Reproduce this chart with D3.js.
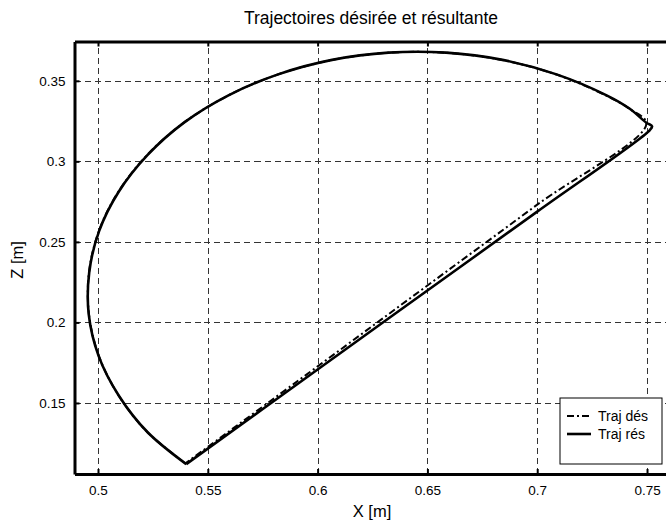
<!DOCTYPE html>
<html>
<head>
<meta charset="utf-8">
<script src="https://cdn.jsdelivr.net/npm/d3@7"></script>
<style>
  body { margin: 0; background: #fff; }
  svg { display: block; font-family: "Liberation Sans", Arial, sans-serif; }
  .grid line { stroke: #333; stroke-width: 1; stroke-dasharray: 6,4; shape-rendering: crispEdges; }
  .grid path { display: none; }
  .axis path { stroke: #000; stroke-width: 3; }
  .axis line { stroke: #000; stroke-width: 2; }
  .axis text { font-size: 13.5px; fill: #000; }
</style>
</head>
<body>
<div id="chart"></div>
<script>
// tick values and labels
const xTicks = [0.5, 0.55, 0.6, 0.65, 0.7, 0.75];
const xTickLabels = ['0.5', '0.55', '0.6', '0.65', '0.7', '0.75'];
const zTicks = [0.15, 0.2, 0.25, 0.3, 0.35];
const zTickLabels = ['0.15', '0.2', '0.25', '0.3', '0.35'];

// desired trajectory (dash-dot)
const desX = [0.5398, 0.5224, 0.5094, 0.5004, 0.4959, 0.4959, 0.5004, 0.5094, 0.5224, 0.5392,
  0.5593, 0.5819, 0.6065, 0.6322, 0.6584, 0.6841, 0.7087, 0.7313, 0.7417, 0.7497,
  0.7000, 0.6500, 0.6000, 0.5398];
const desZ = [0.1125, 0.1320, 0.1546, 0.1792, 0.2049, 0.2311, 0.2568, 0.2814, 0.3040, 0.3241,
  0.3409, 0.3539, 0.3629, 0.3674, 0.3674, 0.3629, 0.3539, 0.3409, 0.3329, 0.3233,
  0.2731, 0.2229, 0.1727, 0.1125];

// resulting trajectory (solid)
const resX = [0.5402, 0.5226, 0.5095, 0.5003, 0.4958, 0.4960, 0.5005, 0.5095, 0.5226, 0.5393,
  0.5594, 0.5820, 0.6066, 0.6323, 0.6585, 0.6842, 0.7088, 0.7316, 0.7420, 0.7497, 0.7523, 0.7512,
  0.7000, 0.6500, 0.6000, 0.5402];
const resZ = [0.1120, 0.1318, 0.1545, 0.1791, 0.2048, 0.2310, 0.2567, 0.2813, 0.3040, 0.3242,
  0.3410, 0.3540, 0.3630, 0.3675, 0.3675, 0.3630, 0.3540, 0.3410, 0.3328, 0.3240, 0.3218, 0.3193,
  0.2688, 0.2198, 0.1708, 0.1120];

const seriesNames = ['Traj dés', 'Traj rés'];

const margin = { top: 41.5, left: 74.5 };
const width = 598;   // plot runs past the right edge of the window
const height = 432.5;

const svg = d3.select('#chart').append('svg')
  .attr('width', 666)
  .attr('height', 525);

const x = d3.scaleLinear().domain([0.4893, 0.7616]).range([0, width]);
const y = d3.scaleLinear().domain([0.1059, 0.3744]).range([height, 0]);

const g = svg.append('g')
  .attr('transform', `translate(${margin.left}, ${margin.top})`);

// grid
g.append('g')
  .attr('class', 'grid')
  .attr('transform', `translate(0, ${height})`)
  .call(d3.axisBottom(x).tickValues(xTicks).tickSize(-height).tickFormat(''));
g.append('g')
  .attr('class', 'grid')
  .call(d3.axisLeft(y).tickValues(zTicks).tickSize(-width).tickFormat(''));

// trajectories
const line = d3.line()
  .x(d => x(d[0]))
  .y(d => y(d[1]))
  .curve(d3.curveCatmullRom);

g.append('path')
  .datum(desX.map((v, i) => [v, desZ[i]]))
  .attr('fill', 'none')
  .attr('stroke', '#000')
  .attr('stroke-width', 2)
  .attr('stroke-dasharray', '7,3,2,3')
  .attr('d', line);

g.append('path')
  .datum(resX.map((v, i) => [v, resZ[i]]))
  .attr('fill', 'none')
  .attr('stroke', '#000')
  .attr('stroke-width', 2.6)
  .attr('stroke-linejoin', 'round')
  .attr('d', line);

// axes (ticks point inward)
g.append('g')
  .attr('class', 'axis')
  .attr('transform', `translate(0, ${height})`)
  .call(d3.axisBottom(x).tickValues(xTicks).tickSizeInner(-5).tickSizeOuter(0).tickPadding(11)
    .tickFormat((d, i) => xTickLabels[i]));
g.append('g')
  .attr('class', 'axis')
  .call(d3.axisTop(x).tickValues(xTicks).tickSizeInner(-5).tickSizeOuter(0).tickFormat(''));
g.append('g')
  .attr('class', 'axis')
  .call(d3.axisLeft(y).tickValues(zTicks).tickSizeInner(-5).tickSizeOuter(0).tickPadding(9)
    .tickFormat((d, i) => zTickLabels[i]));

// title and labels
svg.append('text')
  .attr('x', 371)
  .attr('y', 24)
  .attr('text-anchor', 'middle')
  .style('font-size', '17.5px')
  .text('Trajectoires désirée et résultante');

svg.append('text')
  .attr('x', 372)
  .attr('y', 517)
  .attr('text-anchor', 'middle')
  .style('font-size', '16.5px')
  .text('X [m]');

svg.append('text')
  .attr('transform', 'translate(23, 260) rotate(-90)')
  .attr('text-anchor', 'middle')
  .style('font-size', '16.5px')
  .text('Z [m]');

// legend
const legend = svg.append('g').attr('transform', 'translate(560, 398)');
legend.append('rect')
  .attr('width', 102)
  .attr('height', 66)
  .attr('fill', '#fff')
  .attr('stroke', '#000')
  .attr('stroke-width', 1);

const entries = legend.selectAll('.entry')
  .data(seriesNames)
  .enter().append('g')
  .attr('transform', (d, i) => `translate(0, ${18 + i * 18})`);

entries.append('line')
  .attr('x1', 7)
  .attr('x2', 31)
  .attr('stroke', '#000')
  .attr('stroke-width', (d, i) => i === 0 ? 2 : 2.6)
  .attr('stroke-dasharray', (d, i) => i === 0 ? '7,3,2,3' : null);

entries.append('text')
  .attr('x', 38)
  .attr('y', 5)
  .style('font-size', '14px')
  .text(d => d);
</script>
</body>
</html>
